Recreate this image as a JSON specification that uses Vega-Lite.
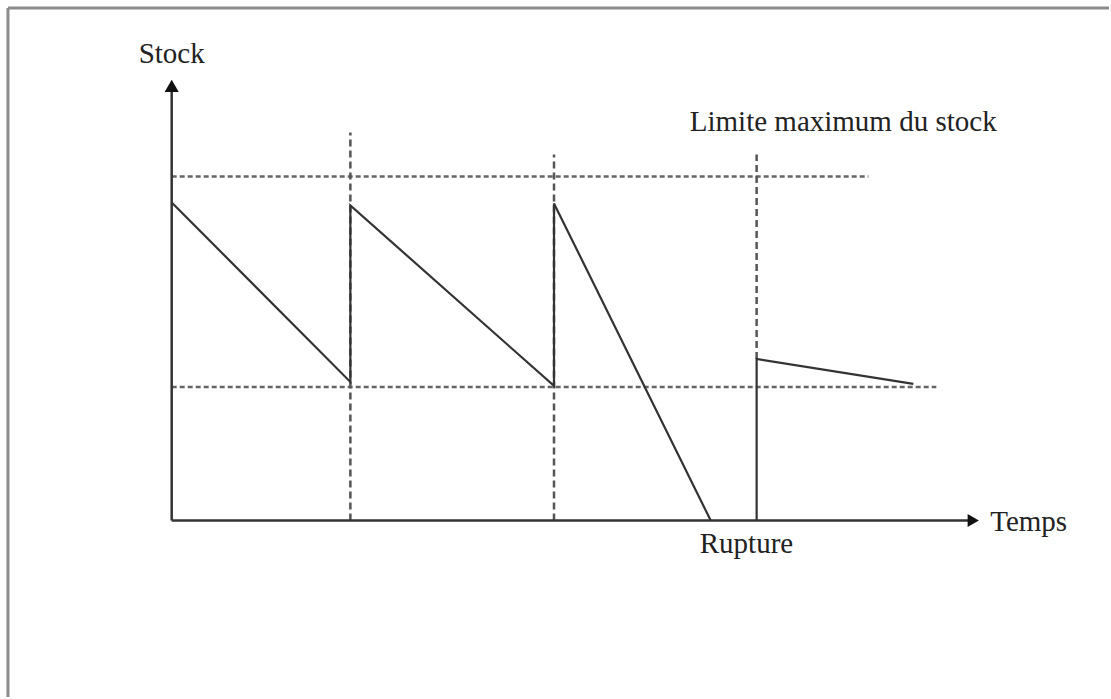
{
  "$schema": "https://vega.github.io/schema/vega-lite/v6.json",
  "width": 1111,
  "height": 699,
  "autosize": {"type": "fit", "contains": "padding"},
  "padding": 0,
  "background": "white",
  "config": {"view": {"stroke": null}},
  "datasets": {
    "frame": [
      {"t": -164, "t2": -164, "s": 514, "s2": -177},
      {"t": -164, "t2": 939, "s": 514, "s2": 514}
    ],
    "axes": [
      {"t": 0, "t2": 0, "s": 0, "s2": 432},
      {"t": 0, "t2": 800, "s": 0, "s2": 0}
    ],
    "hdash": [
      {"name": "max", "t": 0, "t2": 698, "s": 345, "s2": 345},
      {"name": "min", "t": 0, "t2": 766, "s": 134, "s2": 134}
    ],
    "vdash": [
      {"t": 179, "t2": 179, "s": 0, "s2": 389},
      {"t": 383, "t2": 383, "s": 0, "s2": 367},
      {"t": 586, "t2": 586, "s": 162, "s2": 367}
    ],
    "stock": [
      {"seg": 1, "i": 1, "t": 0, "s": 319},
      {"seg": 1, "i": 2, "t": 179, "s": 139},
      {"seg": 1, "i": 3, "t": 179, "s": 316},
      {"seg": 1, "i": 4, "t": 383, "s": 135},
      {"seg": 1, "i": 5, "t": 383, "s": 318},
      {"seg": 1, "i": 6, "t": 540, "s": 0},
      {"seg": 2, "i": 7, "t": 586, "s": 0},
      {"seg": 2, "i": 8, "t": 586, "s": 162},
      {"seg": 2, "i": 9, "t": 743, "s": 137}
    ],
    "arrowUp": [{"t": 0, "s": 436}],
    "arrowRight": [{"t": 803, "s": 0}],
    "labelsCenter": [{"label": "Stock", "t": 0, "s": 459}],
    "labelsLeft": [
      {"label": "Limite maximum du stock", "t": 519, "s": 391},
      {"label": "Temps", "t": 820, "s": -11},
      {"label": "Rupture", "t": 529, "s": -33}
    ]
  },
  "layer": [
    {
      "data": {"name": "frame"},
      "mark": {"type": "rule", "color": "#8c8c8c", "strokeWidth": 3},
      "encoding": {
        "x": {"field": "t", "type": "quantitative", "scale": {"domain": [-172, 939], "nice": false, "zero": false}, "axis": null},
        "x2": {"field": "t2"},
        "y": {"field": "s", "type": "quantitative", "scale": {"domain": [-177, 522], "nice": false, "zero": false}, "axis": null},
        "y2": {"field": "s2"}
      }
    },
    {
      "data": {"name": "hdash"},
      "mark": {"type": "rule", "color": "#666666", "strokeWidth": 2.5, "strokeDash": [5, 3]},
      "encoding": {
        "x": {"field": "t", "type": "quantitative"},
        "x2": {"field": "t2"},
        "y": {"field": "s", "type": "quantitative"},
        "y2": {"field": "s2"}
      }
    },
    {
      "data": {"name": "vdash"},
      "mark": {"type": "rule", "color": "#555555", "strokeWidth": 2.5, "strokeDash": [7, 4]},
      "encoding": {
        "x": {"field": "t", "type": "quantitative"},
        "x2": {"field": "t2"},
        "y": {"field": "s", "type": "quantitative"},
        "y2": {"field": "s2"}
      }
    },
    {
      "data": {"name": "axes"},
      "mark": {"type": "rule", "color": "#333333", "strokeWidth": 2.5},
      "encoding": {
        "x": {"field": "t", "type": "quantitative"},
        "x2": {"field": "t2"},
        "y": {"field": "s", "type": "quantitative"},
        "y2": {"field": "s2"}
      }
    },
    {
      "data": {"name": "stock"},
      "mark": {"type": "line", "color": "#333333", "strokeWidth": 2.2},
      "encoding": {
        "x": {"field": "t", "type": "quantitative"},
        "y": {"field": "s", "type": "quantitative"},
        "detail": {"field": "seg"},
        "order": {"field": "i", "type": "quantitative"}
      }
    },
    {
      "data": {"name": "arrowUp"},
      "mark": {"type": "point", "shape": "triangle-up", "filled": true, "color": "#111111", "size": 200, "opacity": 1},
      "encoding": {
        "x": {"field": "t", "type": "quantitative"},
        "y": {"field": "s", "type": "quantitative"}
      }
    },
    {
      "data": {"name": "arrowRight"},
      "mark": {"type": "point", "shape": "triangle-right", "filled": true, "color": "#111111", "size": 169, "opacity": 1},
      "encoding": {
        "x": {"field": "t", "type": "quantitative"},
        "y": {"field": "s", "type": "quantitative"}
      }
    },
    {
      "data": {"name": "labelsCenter"},
      "mark": {"type": "text", "font": "Liberation Serif", "fontSize": 29, "color": "#222222", "align": "center", "baseline": "alphabetic"},
      "encoding": {
        "x": {"field": "t", "type": "quantitative"},
        "y": {"field": "s", "type": "quantitative"},
        "text": {"field": "label"}
      }
    },
    {
      "data": {"name": "labelsLeft"},
      "mark": {"type": "text", "font": "Liberation Serif", "fontSize": 29, "color": "#222222", "align": "left", "baseline": "alphabetic"},
      "encoding": {
        "x": {"field": "t", "type": "quantitative"},
        "y": {"field": "s", "type": "quantitative"},
        "text": {"field": "label"}
      }
    }
  ]
}
